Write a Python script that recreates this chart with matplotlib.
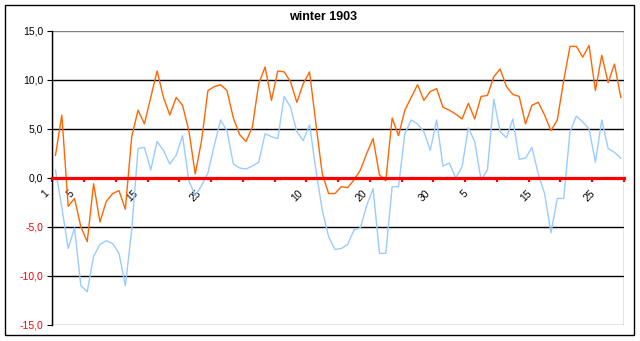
import numpy as np
import matplotlib
matplotlib.use("Agg")
from matplotlib import pyplot as plt
from matplotlib.patches import Rectangle
from matplotlib.transforms import ScaledTranslation

plt.rcParams['font.family'] = ['Liberation Sans', 'DejaVu Sans']

# days of Dec 1902 .. Feb 1903
month_days = [31, 31, 28]
day_labels = [str(d) for n in month_days for d in range(1, n + 1)]
label_idx = [0, 4, 14, 24, 40, 50, 60, 66, 76, 86]

# upper (orange) series
t_max = [2.3, 6.4, -2.9, -2.1, -5.0, -6.5, -0.6, -4.5, -2.4, -1.6,
         -1.3, -3.2, 4.2, 6.9, 5.5, 8.2, 10.9, 8.2, 6.4, 8.2,
         7.4, 4.8, 0.4, 3.8, 8.9, 9.3, 9.5, 8.9, 6.1, 4.4,
         3.7, 5.2, 9.6, 11.3, 7.9, 10.9, 10.8, 9.8, 7.7, 9.6,
         10.8, 5.5, 0.4, -1.6, -1.6, -0.9, -1.0, -0.2, 0.8, 2.5,
         4.0, 0.3, -0.3, 6.1, 4.3, 6.9, 8.2, 9.5, 7.9, 8.8,
         9.1, 7.2, 6.9, 6.5, 6.0, 7.6, 6.0, 8.3, 8.4, 10.3,
         11.1, 9.3, 8.5, 8.3, 5.5, 7.4, 7.7, 6.4, 4.8, 5.9,
         9.9, 13.4, 13.4, 12.3, 13.5, 8.9, 12.5, 9.7, 11.6, 8.2]

# lower (light blue) series
t_min = [0.8, -3.0, -7.2, -5.1, -11.0, -11.6, -8.0, -6.8, -6.4, -6.7,
         -7.7, -11.0, -5.3, 3.0, 3.1, 0.8, 3.7, 2.8, 1.4, 2.3,
         4.3, -0.3, -1.8, -0.8, 0.5, 3.3, 5.9, 4.8, 1.4, 1.0,
         0.9, 1.2, 1.6, 4.5, 4.2, 4.0, 8.3, 7.2, 4.7, 3.8,
         5.4, 0.8, -3.3, -6.0, -7.3, -7.2, -6.8, -5.3, -5.1, -2.8,
         -1.1, -7.7, -7.7, -0.9, -0.9, 4.5, 5.9, 5.5, 4.7, 2.8,
         5.9, 1.2, 1.5, 0.0, 1.1, 5.1, 3.7, -0.2, 0.8, 8.0,
         4.7, 4.1, 6.0, 1.9, 2.0, 3.1, 0.4, -1.6, -5.6, -2.1,
         -2.1, 4.7, 6.3, 5.7, 5.0, 1.6, 5.9, 3.0, 2.6, 2.0]

y_ticks = [-15, -10, -5, 0, 5, 10, 15]

W, H = 640, 341
fig = plt.figure(figsize=(W / 100, H / 100), dpi=100)
fig.patches.append(Rectangle((5 / W, 6 / H), 629 / W, 330 / H, transform=fig.transFigure,
                             fill=False, edgecolor='black', lw=1.0))
fig.text(323 / W, 1 - 17 / H, 'winter 1903', ha='center', va='center',
         fontsize=9, fontweight='bold')

ax = fig.add_axes([52.3 / W, 1 - 325 / H, (624 - 52.3) / W, (325 - 30.7) / H])
n = len(t_max)
x = np.arange(n) + 0.5
ax.plot(x, t_min, color='#99CCFF', lw=1.0, zorder=3)
ax.plot(x, t_max, color='#FF6600', lw=1.0, zorder=3)

ax.set_xlim(0, n)
ax.set_ylim(-15, 15)

# frame: gray box, black left axis, red category axis at zero
ax.add_patch(Rectangle((0, 0), 1, 1, transform=ax.transAxes, fill=False,
                       edgecolor='#808080', lw=1.0, zorder=1))
for s in ['top', 'right']:
    ax.spines[s].set_visible(False)
ax.spines['left'].set_color('black')
ax.spines['left'].set_linewidth(1.0)
ax.spines['left'].set_zorder(4)
ax.spines['bottom'].set_position(('data', 0))
ax.spines['bottom'].set_color('red')
ax.spines['bottom'].set_linewidth(2.3)
ax.spines['bottom'].set_zorder(4)

ax.set_yticks(y_ticks)
ax.set_yticklabels([('%.1f' % v).replace('.', ',') for v in y_ticks], fontsize=7.5)
for lbl, v in zip(ax.get_yticklabels(), y_ticks):
    if v < 0:
        lbl.set_color('red')
ax.tick_params(axis='y', direction='out', length=3.5, width=0.8, color='black', pad=3)
ax.yaxis.grid(True, color='black', lw=1.0)
gls = ax.get_ygridlines()
gls[0].set_visible(False)
gls[-1].set_visible(False)
ax.set_axisbelow(True)

ax.set_xticks(np.arange(0, n + 1, 5))
ax.set_xticklabels([])
ax.tick_params(axis='x', which='major', direction='out', length=3, width=1.6, color='red')
ax.set_xticks([i + 0.5 for i in label_idx], minor=True)
ax.set_xticklabels([day_labels[i] for i in label_idx], minor=True, fontsize=7.5,
                   rotation=45, ha='right', va='center', rotation_mode='anchor')
ax.tick_params(axis='x', which='minor', length=0, pad=10)
off = ScaledTranslation(-8 / 100, 0, fig.dpi_scale_trans)
for lbl in ax.get_xticklabels(minor=True):
    lbl.set_transform(lbl.get_transform() + off)

fig.savefig('out.png', dpi=100)
